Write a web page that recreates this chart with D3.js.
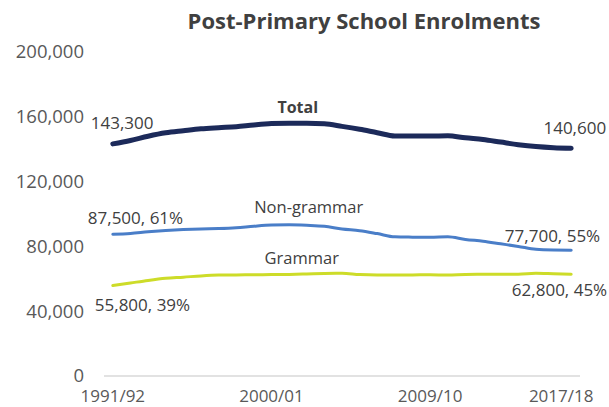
<!DOCTYPE html>
<html>
<head>
<meta charset="utf-8">
<script src="https://cdn.jsdelivr.net/npm/d3@7"></script>
<style>
  html, body { margin: 0; padding: 0; background: #fff; }
  svg { display: block; font-family: "Open Sans", "Liberation Sans", sans-serif; }
</style>
</head>
<body>
<svg id="chart" width="609" height="407"></svg>
<script>
const years = ["1991/92","1992/93","1993/94","1994/95","1995/96","1996/97","1997/98","1998/99","1999/00",
  "2000/01","2001/02","2002/03","2003/04","2004/05","2005/06","2006/07","2007/08","2008/09","2009/10",
  "2010/11","2011/12","2012/13","2013/14","2014/15","2015/16","2016/17","2017/18"];
const total = [143300,145400,148000,150100,151400,152600,153300,153900,155000,155800,156000,156000,155700,
  154100,152300,150200,148200,148100,148100,148300,147000,146000,144400,142800,141600,140900,140600];
const nonGrammar = [87500,88000,89000,89800,90400,90800,91000,91500,92500,93200,93300,93000,92400,
  90700,89700,87900,85900,85700,85600,86000,84300,83200,81600,80000,78200,77800,77700];
const grammar = [55800,57400,59000,60300,61000,61800,62300,62400,62500,62600,62700,63000,63300,
  63400,62600,62300,62300,62400,62500,62300,62700,62800,62800,62800,63400,63100,62800];
const yTicks = [0,40000,80000,120000,160000,200000];
const xTickLabels = ["1991/92","2000/01","2009/10","2017/18"];
const title = "Post-Primary School Enrolments";

const svg = d3.select("#chart");
const x = d3.scaleBand().domain(years).range([104, 580]).padding(0);
const y = d3.scaleLinear().domain([0, 200000]).range([376, 52]);
const cx = d => x(d) + x.bandwidth() / 2;
const fmt = d3.format(",");

// title
svg.append("text").attr("x", 364).attr("y", 29).attr("text-anchor", "middle")
  .attr("font-size", 22).attr("font-weight", "bold").attr("fill", "#404040").text(title);

// baseline
svg.append("line").attr("x1", 104).attr("x2", 580).attr("y1", y(0)).attr("y2", y(0))
  .attr("stroke", "#d9d9d9").attr("stroke-width", 1.5);

// y axis
const yAxis = d3.axisLeft(y).tickValues(yTicks).tickFormat(fmt).tickSize(0).tickPadding(0);
svg.append("g").attr("transform", "translate(84,0)").call(yAxis)
  .call(g => g.select(".domain").remove())
  .call(g => g.selectAll("text").attr("font-size", 18.5).attr("fill", "#595959")
    .attr("font-family", "Open Sans, sans-serif"));

// x axis
const xAxis = d3.axisBottom(x).tickValues(xTickLabels).tickSize(0).tickPadding(0);
svg.append("g").attr("transform", `translate(0,${y(0) + 14})`).call(xAxis)
  .call(g => g.select(".domain").remove())
  .call(g => g.selectAll("text").attr("font-size", 17).attr("fill", "#595959")
    .attr("font-family", "Open Sans, sans-serif")
    .attr("dx", d => d === "2017/18" ? -10 : 0));

const line = d3.line().x((d, i) => cx(years[i])).y(d => y(d)).curve(d3.curveMonotoneX);

const series = [
  { name: "Grammar", values: grammar, color: "#cddc29", width: 3 },
  { name: "Non-grammar", values: nonGrammar, color: "#4a7ec8", width: 3 },
  { name: "Total", values: total, color: "#1c2a5a", width: 5 }
];
series.forEach(s => {
  svg.append("path").datum(s.values).attr("d", line).attr("fill", "none")
    .attr("stroke", s.color).attr("stroke-width", s.width)
    .attr("stroke-linecap", "round").attr("stroke-linejoin", "round");
});

const lab = (xx, yy, txt, opts = {}) => svg.append("text").attr("x", xx).attr("y", yy)
  .attr("text-anchor", opts.anchor || "middle").attr("font-size", opts.size || 17)
  .attr("font-weight", opts.bold ? "bold" : "normal").attr("fill", "#404040").text(txt);

const first = years[0], last = years[years.length - 1];
const n = years.length - 1;
const pct = (a, b) => Math.round(a / b * 100) + "%";

// end labels
lab(cx(first) - 22, y(total[0]) - 15, fmt(total[0]), { anchor: "start" });
lab(cx(last) + 35, y(total[n]) - 14, fmt(total[n]), { anchor: "end" });
lab(cx(first) - 25, y(nonGrammar[0]) - 10, fmt(nonGrammar[0]) + ", " + pct(nonGrammar[0], total[0]), { anchor: "start" });
lab(cx(last) + 29, y(nonGrammar[n]) - 8, fmt(nonGrammar[n]) + ", " + pct(nonGrammar[n], total[n]), { anchor: "end" });
lab(cx(first) - 18, y(grammar[0]) + 25, fmt(grammar[0]) + ", " + pct(grammar[0], total[0]), { anchor: "start" });
lab(cx(last) + 36, y(grammar[n]) + 22, fmt(grammar[n]) + ", " + pct(grammar[n], total[n]), { anchor: "end" });

// series names
lab(cx("2002/03") - 9, y(total[11]) - 10, "Total", { bold: true, size: 16 });
lab(cx("2002/03") + 2, y(nonGrammar[11]) - 12, "Non-grammar", { size: 16.5 });
lab(cx("2002/03") - 5, y(grammar[11]) - 10, "Grammar", { size: 16.5 });
</script>
</body>
</html>
